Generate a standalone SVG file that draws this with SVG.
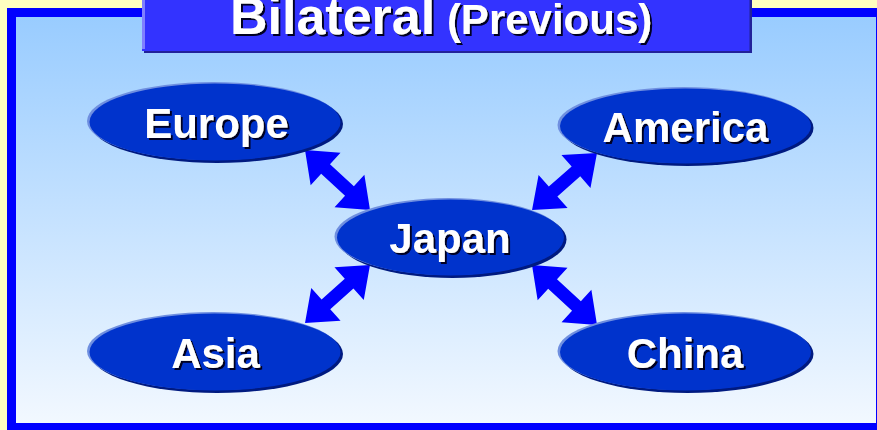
<svg xmlns="http://www.w3.org/2000/svg" width="877" height="430" viewBox="0 0 877 430">
<defs>
<linearGradient id="panel" x1="0" y1="0" x2="0" y2="1">
<stop offset="0" stop-color="#99ccff"/>
<stop offset="1" stop-color="#f2f8ff"/>
</linearGradient>
<filter id="ts" x="-10%" y="-20%" width="120%" height="150%">
<feDropShadow dx="2" dy="2" stdDeviation="0" flood-color="#000022" flood-opacity="1"/>
</filter>
<style>
.lbl{font-family:"Liberation Sans",Arial,sans-serif;font-weight:bold;font-size:42px;text-anchor:middle;fill:#ffffff;filter:url(#ts)}
.el{fill:#0033cc}
.hi{fill:#6f8fe0}
.dk{fill:#001a80}
.arr{fill:#0000ff}
.ttl{font-family:"Liberation Sans",Arial,sans-serif;font-weight:bold;fill:#ffffff;filter:url(#ts)}
</style>
</defs>
<rect x="0" y="0" width="877" height="430" fill="#ffffc0"/>
<rect x="7" y="8" width="870" height="422" fill="#0000ff"/>
<rect x="16" y="17" width="860" height="406" fill="url(#panel)"/>
<g id="title">
<rect x="144" y="-5" width="608" height="58" fill="#222299"/>
<rect x="142" y="-5" width="607.5" height="56" fill="#3333ff"/>
<rect x="142" y="-5" width="3" height="54" fill="#8080ff"/>
<text class="ttl" x="230" y="34" font-size="52">Bilateral<tspan font-size="42"> (Previous)</tspan></text>
</g>
<g id="connectors">
<polygon class="arr" transform="translate(305,150) rotate(42.71)" points="0,0 28,-22 28,-6.5 60.5,-6.5 60.5,-22 88.5,0 60.5,22 60.5,6.5 28,6.5 28,22"/>
<polygon class="arr" transform="translate(597,153) rotate(138.75)" points="0,0 28,-22 28,-6.5 58.4,-6.5 58.4,-22 86.4,0 58.4,22 58.4,6.5 28,6.5 28,22"/>
<polygon class="arr" transform="translate(370,265) rotate(138.25)" points="0,0 28,-22 28,-6.5 59.1,-6.5 59.1,-22 87.1,0 59.1,22 59.1,6.5 28,6.5 28,22"/>
<polygon class="arr" transform="translate(532,265) rotate(42.71)" points="0,0 28,-22 28,-6.5 60.5,-6.5 60.5,-22 88.5,0 60.5,22 60.5,6.5 28,6.5 28,22"/>
</g>
<g id="europe">
<ellipse class="dk" cx="217" cy="124" rx="126" ry="39"/>
<ellipse class="hi" cx="213" cy="121" rx="126" ry="39"/>
<ellipse class="el" cx="215" cy="122" rx="125.5" ry="38.5"/>
<text class="lbl" x="216.5" y="138">Europe</text>
</g>
<g id="america">
<ellipse class="dk" cx="687.5" cy="128" rx="126" ry="38"/>
<ellipse class="hi" cx="683.5" cy="125" rx="126" ry="38"/>
<ellipse class="el" cx="685.5" cy="126" rx="125.5" ry="37.5"/>
<text class="lbl" x="685.5" y="142">America</text>
</g>
<g id="japan">
<ellipse class="dk" cx="452.5" cy="239.5" rx="114" ry="38.5"/>
<ellipse class="hi" cx="448.5" cy="236.5" rx="114" ry="38.5"/>
<ellipse class="el" cx="450.5" cy="237.5" rx="113.5" ry="38"/>
<text class="lbl" x="450" y="253">Japan</text>
</g>
<g id="asia">
<ellipse class="dk" cx="217" cy="354" rx="126" ry="39"/>
<ellipse class="hi" cx="213" cy="351" rx="126" ry="39"/>
<ellipse class="el" cx="215" cy="352" rx="125.5" ry="38.5"/>
<text class="lbl" x="215.5" y="368">Asia</text>
</g>
<g id="china">
<ellipse class="dk" cx="687.5" cy="354" rx="126" ry="39"/>
<ellipse class="hi" cx="683.5" cy="351" rx="126" ry="39"/>
<ellipse class="el" cx="685.5" cy="352" rx="125.5" ry="38.5"/>
<text class="lbl" x="685" y="368">China</text>
</g>
</svg>
